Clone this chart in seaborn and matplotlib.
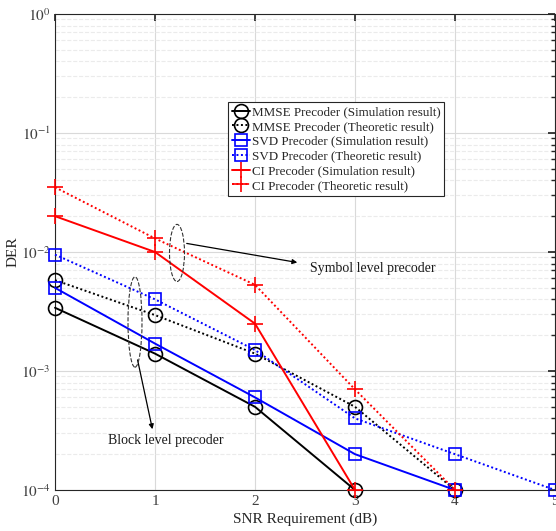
import numpy as np
import pandas as pd
import seaborn as sns
import matplotlib
matplotlib.use("Agg")
import matplotlib.pyplot as plt
from matplotlib.patches import Ellipse

snr = [0, 1, 2, 3, 4, 5]
mmse_sim = [3.4e-3, 1.4e-3, 5.0e-4, 1e-4]
mmse_theo = [5.8e-3, 2.95e-3, 1.4e-3, 5.0e-4, 1e-4]
svd_sim = [5.0e-3, 1.7e-3, 6.0e-4, 2.0e-4, 1e-4]
svd_theo = [9.5e-3, 4.0e-3, 1.5e-3, 4.0e-4, 2.0e-4, 1e-4]
ci_sim = [2.0e-2, 1.0e-2, 2.5e-3, 1e-4]
ci_theo = [3.5e-2, 1.3e-2, 5.3e-3, 7.0e-4, 1e-4]

labels = ["MMSE Precoder (Simulation result)", "MMSE Precoder (Theoretic result)",
          "SVD Precoder (Simulation result)", "SVD Precoder (Theoretic result)",
          "CI Precoder (Simulation result)", "CI Precoder (Theoretic result)"]

sns.set_theme(style="white")
plt.rcParams['font.family'] = ['Liberation Serif', 'DejaVu Serif']
plt.rcParams['mathtext.fontset'] = 'stix'

fig = plt.figure(figsize=(5.56, 5.31), dpi=100)
ax = fig.add_axes([55/556, 41/531, 500/556, 476/531])

dot = (0, (1, 1.3))
series = [
    (mmse_sim, "black", "-", "o", 10),
    (mmse_theo, "black", dot, "o", 10),
    (svd_sim, "#0000ff", "-", "s", 8.5),
    (svd_theo, "#0000ff", dot, "s", 8.5),
    (ci_sim, "#ff0000", "-", "+", 11),
    (ci_theo, "#ff0000", dot, "+", 11),
]
handles = []
for (vals, c, ls, mk, ms), lab in zip(series, labels):
    df = pd.DataFrame({"snr": snr[:len(vals)], "der": vals})
    sns.lineplot(data=df, x="snr", y="der", ax=ax, color=c, linestyle=ls,
                 marker=mk, markersize=ms, markerfacecolor="none",
                 markeredgecolor=c, markeredgewidth=1.2, linewidth=1.4,
                 clip_on=False, zorder=5, label=lab, legend=False)
    handles.append(ax.lines[-1])

ax.set_yscale("log")
ax.set_ylim(1e-4, 1e0)
ax.set_xlim(0, 5)
ax.set_xticks([0, 1, 2, 3, 4, 5])
ax.set_xticklabels(["0", "1", "2", "3", "4", "5"])
ax.set_yticks([1e-4, 1e-3, 1e-2, 1e-1, 1e0])
ax.set_yticklabels([r"$10^{-4}$", r"$10^{-3}$", r"$10^{-2}$", r"$10^{-1}$", r"$10^{0}$"])
ax.grid(True, which="major", color="#d9d9d9", linewidth=0.8, linestyle="-")
ax.grid(True, which="minor", axis="y", color="#ebebeb", linewidth=0.8, linestyle="--")
ax.tick_params(which="both", direction="in", top=True, right=True, colors="#262626",
               labelsize=11, labelcolor="#404040")
ax.tick_params(axis="y", pad=3)
ax.tick_params(which="major", length=5)
ax.tick_params(which="minor", length=3)
for s in ax.spines.values():
    s.set_color("#262626")
    s.set_linewidth(0.8)
ax.set_xlabel("SNR Requirement (dB)", fontsize=11, color="#262626", labelpad=3)
ax.set_ylabel("DER", fontsize=11, color="#262626")
ax.yaxis.set_label_coords(-0.07, 0.5)

leg = ax.legend(handles=handles, labels=labels, loc="upper left",
                bbox_to_anchor=(0.346, 0.815), fontsize=9.4, frameon=True,
                fancybox=False, edgecolor="#262626", framealpha=1,
                handlelength=1.4, handletextpad=0.1, borderpad=0.3,
                labelspacing=0.2, borderaxespad=0)
leg.get_frame().set_linewidth(0.8)
leg.set_zorder(10)

# annotations
e1 = Ellipse((0.244, 0.498), 0.03, 0.12, transform=ax.transAxes, fill=False,
             linestyle="--", edgecolor="#333333", linewidth=0.8, zorder=6)
e2 = Ellipse((0.16, 0.353), 0.028, 0.19, transform=ax.transAxes, fill=False,
             linestyle="--", edgecolor="#333333", linewidth=0.8, zorder=6)
ax.add_patch(e1)
ax.add_patch(e2)
ax.annotate("", xy=(0.49, 0.477), xytext=(0.258, 0.519), xycoords="axes fraction",
            arrowprops=dict(arrowstyle="-|>", color="black", lw=0.9, mutation_scale=7))
ax.annotate("", xy=(0.196, 0.122), xytext=(0.164, 0.279), xycoords="axes fraction",
            arrowprops=dict(arrowstyle="-|>", color="black", lw=0.9, mutation_scale=7))
ax.text(0.51, 0.466, "Symbol level precoder", transform=ax.transAxes,
        fontsize=10, ha="left", va="center", color="#1a1a1a")
ax.text(0.106, 0.103, "Block level precoder", transform=ax.transAxes,
        fontsize=10, ha="left", va="center", color="#1a1a1a")

fig.savefig("out.png", dpi=100)
